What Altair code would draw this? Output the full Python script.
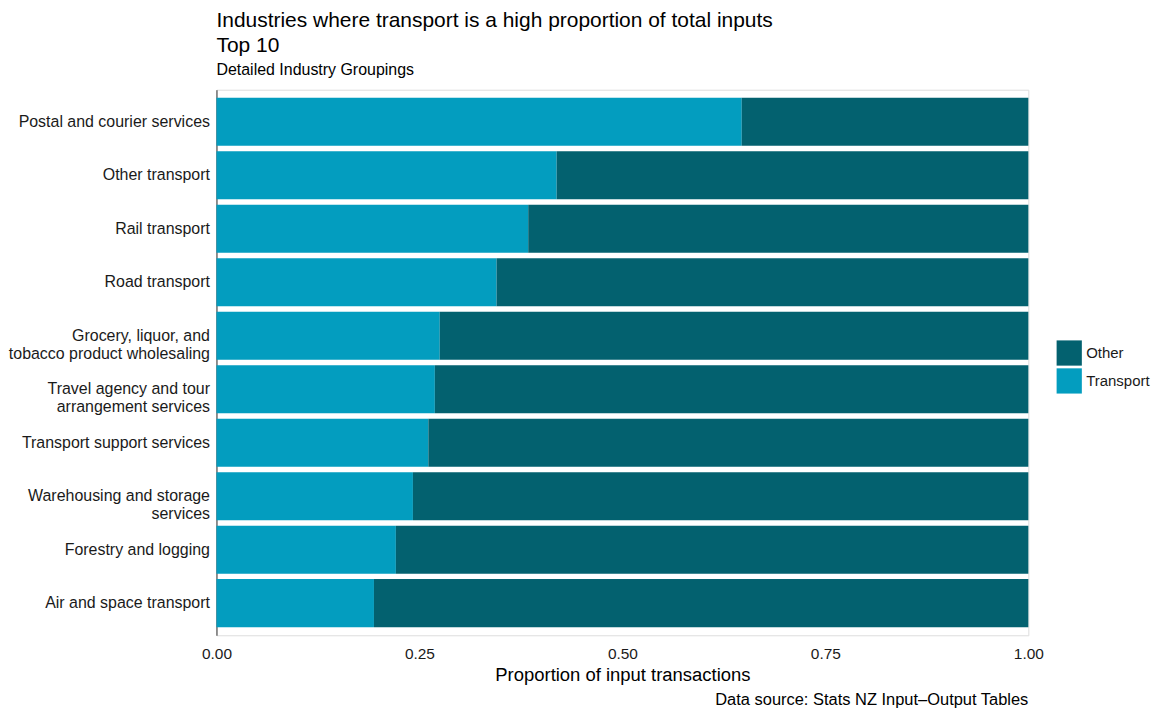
import altair as alt
import pandas as pd

industries = [
    "Postal and courier services",
    "Other transport",
    "Rail transport",
    "Road transport",
    "Grocery, liquor, and|tobacco product wholesaling",
    "Travel agency and tour|arrangement services",
    "Transport support services",
    "Warehousing and storage|services",
    "Forestry and logging",
    "Air and space transport",
]
transport_share = [0.647, 0.419, 0.384, 0.345, 0.275, 0.269, 0.261, 0.242, 0.221, 0.194]
categories = ["Other", "Transport"]
colors = ["#03616F", "#039DBF"]

rows = []
for ind, t in zip(industries, transport_share):
    rows.append({"industry": ind, "type": "Transport", "value": t, "ord": 0})
    rows.append({"industry": ind, "type": "Other", "value": round(1 - t, 4), "ord": 1})
df = pd.DataFrame(rows)

FONT = "Liberation Sans"
W, H = 814, 547

bars = alt.Chart(df).mark_bar().encode(
    y=alt.Y(
        "industry:N",
        sort=industries,
        title=None,
        scale=alt.Scale(paddingInner=0.1, paddingOuter=0.15),
        axis=alt.Axis(
            labelExpr="split(datum.label, '|')",
            labelFontSize=16,
            labelColor="#1a1a1a",
            labelFont=FONT,
            labelLimit=400,
            ticks=False,
            labelPadding=7,
            domain=True,
            domainColor="#333333",
            domainWidth=1,
            grid=False,
            labelLineHeight=18,
        ),
    ),
    x=alt.X(
        "value:Q",
        stack="zero",
        title="Proportion of input transactions",
        scale=alt.Scale(domain=[0, 1], nice=False, zero=True),
        axis=alt.Axis(
            values=[0, 0.25, 0.5, 0.75, 1.0],
            format=".2f",
            labelFontSize=15.5,
            labelColor="#1a1a1a",
            labelFont=FONT,
            ticks=False,
            domain=False,
            grid=False,
            labelPadding=11,
            titleFontSize=18.5,
            titleFont=FONT,
            titleFontWeight="normal",
            titleColor="#000000",
            titlePadding=4,
            labelFlush=False,
        ),
    ),
    color=alt.Color(
        "type:N",
        scale=alt.Scale(domain=categories, range=colors),
        legend=alt.Legend(
            title=None,
            orient="none",
            legendX=W + 28,
            legendY=251,
            symbolType="square",
            symbolSize=640,
            symbolStrokeWidth=0,
            symbolOpacity=1,
            labelFontSize=15,
            labelFont=FONT,
            labelColor="#1a1a1a",
            rowPadding=2,
            labelOffset=4,
        ),
    ),
    order=alt.Order("ord:Q", sort="ascending"),
)

caption = alt.Chart(pd.DataFrame({"t": ["Data source: Stats NZ Input\u2013Output Tables"]})).mark_text(
    align="right", baseline="bottom", fontSize=16.5, font=FONT, color="#000000"
).encode(
    text="t:N",
    x=alt.value(W),
    y=alt.value(H + 73),
)

chart = alt.layer(bars, caption).properties(
    width=W,
    height=H,
    padding={"left": 0, "top": 1, "right": 5, "bottom": 2},
    title=alt.TitleParams(
        text=["Industries where transport is a high proportion of total inputs", "Top 10"],
        subtitle="Detailed Industry Groupings",
        anchor="start",
        frame="group",
        font=FONT,
        fontSize=21,
        fontWeight="normal",
        lineHeight=25,
        color="#000000",
        subtitleFont=FONT,
        subtitleFontSize=16,
        subtitleColor="#000000",
        subtitlePadding=6,
        offset=12,
    ),
).configure_view(stroke=None).configure(background="white")

chart.save("out.html", embed_options={"renderer": "svg", "actions": False})
